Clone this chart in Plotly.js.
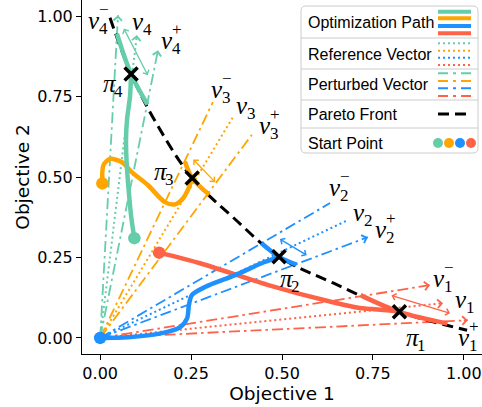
<!DOCTYPE html>
<html><head><meta charset="utf-8">
<script src="https://cdn.plot.ly/plotly-3.0.1.min.js"></script>
<style>html,body{margin:0;padding:0;background:#fff}#chart{width:482px;height:407px}</style>
</head><body><div id="chart"></div>
<script>
// ---- data (index order: 1 red, 2 blue, 3 orange, 4 green) ----
const names = ['1','2','3','4'];
const colors = ['#FF6347','#1E90FF','#FFA500','#66CDAA'];

const front_x = [0.027, 0.085, 0.158, 0.253, 0.365, 0.492, 0.642, 0.823, 1.009];
const front_y = [0.995, 0.82, 0.66, 0.497, 0.375, 0.252, 0.17, 0.081, 0.024];

const pi_x = [0.823, 0.492, 0.253, 0.085];
const pi_y = [0.081, 0.252, 0.497, 0.82];

const start_x = [0.162, 0.0, 0.006, 0.094];
const start_y = [0.265, 0.0, 0.48, 0.31];

const ref_x = [0.943, 0.681, 0.365, 0.101];
const ref_y = [0.108, 0.366, 0.686, 0.941];
const minus_x = [0.907, 0.632, 0.31, 0.049];
const minus_y = [0.164, 0.419, 0.733, 1.003];
const plus_x = [1.011, 0.736, 0.417, 0.159];
const plus_y = [0.055, 0.313, 0.631, 0.894];

const path1_x = [0.162, 0.275, 0.46, 0.64, 0.714, 0.789, 0.823];
const path1_y = [0.265, 0.232, 0.165, 0.111, 0.093, 0.086, 0.081];
const path2_x = [0.0, 0.076, 0.17, 0.219, 0.239, 0.244, 0.252, 0.288, 0.371, 0.45, 0.492];
const path2_y = [0.0, 0.002, 0.015, 0.033, 0.061, 0.102, 0.133, 0.158, 0.195, 0.235, 0.252];
const path3_x = [0.006, 0.009, 0.027, 0.06, 0.087, 0.131, 0.178, 0.206, 0.228, 0.245, 0.253];
const path3_y = [0.48, 0.537, 0.556, 0.546, 0.515, 0.475, 0.422, 0.415, 0.434, 0.47, 0.497];
const path4_x = [0.094, 0.086, 0.079, 0.073, 0.071, 0.074, 0.082, 0.085];
const path4_y = [0.31, 0.37, 0.45, 0.54, 0.614, 0.68, 0.75, 0.82];

const seg1_x = [0.716, 0.823, 0.955];  const seg1_y = [0.133, 0.081, 0.045];
const seg2_x = [0.443, 0.492, 0.54];   const seg2_y = [0.295, 0.252, 0.228];
const seg3_x = [0.233, 0.253, 0.3];    const seg3_y = [0.548, 0.497, 0.445];
const seg4_x = [0.046, 0.085, 0.13];   const seg4_y = [0.945, 0.82, 0.725];

const span_x0 = [0.797, 0.49, 0.252, 0.063];
const span_y0 = [0.133, 0.31, 0.559, 0.966];
const span_x1 = [0.962, 0.568, 0.316, 0.131];
const span_y1 = [0.077, 0.257, 0.484, 0.816];

// label anchors (left edge of glyph, vertical centre)
const lblMinus_x = [0.91, 0.625, 0.298, -0.038];
const lblMinus_y = [0.186, 0.466, 0.773, 0.985];
const lblRef_x = [0.969, 0.69, 0.369, 0.083];
const lblRef_y = [0.12, 0.39, 0.721, 0.984];
const lblPlus_x = [0.978, 0.751, 0.43, 0.162];
const lblPlus_y = [0.0, 0.336, 0.659, 0.923];
const lblPi_x = [0.835, 0.488, 0.143, 0.002];
const lblPi_y = [0.0, 0.185, 0.516, 0.792];

const legendLabels = ['Optimization Path','Reference Vector','Perturbed Vector','Pareto Front','Start Point'];

// ---- traces ----
const paths_x = [path1_x, path2_x, path3_x, path4_x];
const paths_y = [path1_y, path2_y, path3_y, path4_y];
const segs_x = [seg1_x, seg2_x, seg3_x, seg4_x];
const segs_y = [seg1_y, seg2_y, seg3_y, seg4_y];
const DASHDOT = '11px,4px,2.5px,4px';
const DOT = '2px,3px';
const traces = [];
for (let i = 0; i < 4; i++) {
  traces.push({x:[0, minus_x[i]], y:[0, minus_y[i]], mode:'lines', line:{color:colors[i], width:1.8, dash:DASHDOT}, hoverinfo:'skip'});
  traces.push({x:[0, ref_x[i]], y:[0, ref_y[i]], mode:'lines', line:{color:colors[i], width:2, dash:DOT}, hoverinfo:'skip'});
  traces.push({x:[0, plus_x[i]], y:[0, plus_y[i]], mode:'lines', line:{color:colors[i], width:1.8, dash:DASHDOT}, hoverinfo:'skip'});
}
traces.push({x:front_x, y:front_y, mode:'lines', line:{color:'black', width:3, dash:'11px,6px', shape:'spline', smoothing:1}, hoverinfo:'skip'});
for (let i = 0; i < 4; i++) {
  traces.push({x:segs_x[i], y:segs_y[i], mode:'lines', line:{color:colors[i], width:4.5, shape:'spline'}, hoverinfo:'skip'});
  traces.push({x:paths_x[i], y:paths_y[i], mode:'lines', line:{color:colors[i], width:4.5, shape:'spline', smoothing:0.8}, hoverinfo:'skip'});
}
traces.push({x:start_x, y:start_y, mode:'markers', marker:{color:colors, size:12.5, line:{width:0}}, hoverinfo:'skip'});
traces.push({x:pi_x, y:pi_y, mode:'markers', marker:{symbol:'x-thin', size:13, line:{width:3.5, color:'black'}, color:'black'}, hoverinfo:'skip'});

// ---- annotations ----
const ann = [];
function rayArrow(tx, ty, c) {
  ann.push({x:tx, y:ty, ax:tx*0.985, ay:ty*0.985, xref:'x', yref:'y', axref:'x', ayref:'y', text:'', showarrow:true,
    arrowhead:4, arrowsize:1.1, arrowwidth:1.5, arrowcolor:c});
}
const MATH = {family:'Liberation Serif', size:25, color:'black'};
const SMALL = {family:'Liberation Serif', size:17, color:'black'};
function label(x, y, main, sub, sup) {
  ann.push({x:x, y:y, xref:'x', yref:'y', text:main, showarrow:false, xanchor:'left', yanchor:'middle', font:MATH});
  ann.push({x:x, y:y, xref:'x', yref:'y', text:sub, showarrow:false, xanchor:'left', yanchor:'middle', font:SMALL, xshift:11, yshift:-8});
  if (sup) ann.push({x:x, y:y, xref:'x', yref:'y', text:sup, showarrow:false, xanchor:'left', yanchor:'middle', font:SMALL, xshift:11, yshift:11});
}
for (let i = 0; i < 4; i++) {
  rayArrow(minus_x[i], minus_y[i], colors[i]);
  rayArrow(ref_x[i], ref_y[i], colors[i]);
  rayArrow(plus_x[i], plus_y[i], colors[i]);
  ann.push({x:span_x1[i], y:span_y1[i], ax:span_x0[i], ay:span_y0[i], xref:'x', yref:'y', axref:'x', ayref:'y', text:'', showarrow:true,
    arrowhead:4, startarrowhead:4, arrowside:'end+start', arrowsize:1.0, startarrowsize:1.0, arrowwidth:1.3, arrowcolor:colors[i]});
  label(lblMinus_x[i], lblMinus_y[i], '<i>v</i>', names[i], '\u2212');
  label(lblRef_x[i], lblRef_y[i], '<i>v</i>', names[i], null);
  label(lblPlus_x[i], lblPlus_y[i], '<i>v</i>', names[i], '+');
  label(lblPi_x[i], lblPi_y[i], '<i>\u03c0</i>', names[i], null);
}

// ---- legend (drawn in paper coordinates) ----
const PL = 82, PW = 400, PH = 354;
const X = px => (px - PL) / PW, Y = py => 1 - py / PH;
const shapes = [];
(function(){
  const x0 = 301, x1 = 478, y0 = 6, y1 = 153, r = 5;
  const p = `M${X(x0+r)},${Y(y0)} L${X(x1-r)},${Y(y0)} Q${X(x1)},${Y(y0)} ${X(x1)},${Y(y0+r)} L${X(x1)},${Y(y1-r)} Q${X(x1)},${Y(y1)} ${X(x1-r)},${Y(y1)} L${X(x0+r)},${Y(y1)} Q${X(x0)},${Y(y1)} ${X(x0)},${Y(y1-r)} L${X(x0)},${Y(y0+r)} Q${X(x0)},${Y(y0)} ${X(x0+r)},${Y(y0)} Z`;
  shapes.push({type:'path', xref:'paper', yref:'paper', path:p, fillcolor:'rgba(255,255,255,0.85)', line:{color:'#cccccc', width:1}, layer:'above'});
  [38, 69, 100, 128].forEach(yy => shapes.push({type:'line', xref:'paper', yref:'paper', x0:X(x0), x1:X(x1), y0:Y(yy), y1:Y(yy), line:{color:'#cccccc', width:1}, layer:'above'}));
  const order = [3, 2, 1, 0]; // green, orange, blue, red
  const sx0 = 438, sx1 = 471;
  const rows = [[11.7, 18.3, 26, 33.3], [43.3, 50.7, 57.7, 65], [73.3, 81, 88.3, 96]];
  const styles = [{width:4, dash:'solid'}, {width:2, dash:DOT}, {width:2, dash:'10px,5px,3px,5px'}];
  rows.forEach((ys, r2) => ys.forEach((yy, k) => shapes.push({type:'line', xref:'paper', yref:'paper', x0:X(sx0), x1:X(sx1), y0:Y(yy), y1:Y(yy),
    line:{color:colors[order[k]], width:styles[r2].width, dash:styles[r2].dash}, layer:'above'})));
  shapes.push({type:'line', xref:'paper', yref:'paper', x0:X(sx0), x1:X(sx1), y0:Y(114), y1:Y(114), line:{color:'black', width:3, dash:'11px,6px'}, layer:'above'});
  [438, 449, 460, 471].forEach((cx, k) => shapes.push({type:'circle', xref:'paper', yref:'paper', x0:X(cx-5), x1:X(cx+5), y0:Y(143+5), y1:Y(143-5),
    fillcolor:colors[order[k]], line:{width:0}, layer:'above'}));
  const ty = [22.5, 55, 85, 115, 143];
  legendLabels.forEach((t, k) => ann.push({xref:'paper', yref:'paper', x:X(306), y:Y(ty[k]), text:t, showarrow:false, xanchor:'left', yanchor:'middle',
    font:{family:'Liberation Sans', size:16, color:'black'}}));
})();

const AX = {showgrid:false, zeroline:false, showline:true, mirror:true, linecolor:'black', linewidth:1,
  ticks:'outside', ticklen:5, tickwidth:1, tickcolor:'black', tickvals:[0, 0.25, 0.5, 0.75, 1], ticktext:['0.00','0.25','0.50','0.75','1.00'],
  tickfont:{family:'DejaVu Sans', size:16, color:'black'}, automargin:false};
const layout = {
  width:482, height:407, margin:{l:PL, r:0, t:0, b:53}, paper_bgcolor:'white', plot_bgcolor:'white', showlegend:false,
  xaxis:Object.assign({}, AX, {range:[-0.05, 1.05], title:{text:'Objective 1', font:{family:'DejaVu Sans', size:18.5, color:'black'}, standoff:0}}),
  yaxis:Object.assign({}, AX, {range:[-0.05, 1.05], title:{text:'Objective 2', font:{family:'DejaVu Sans', size:18.5, color:'black'}, standoff:2}}),
  annotations:ann, shapes:shapes
};
Plotly.newPlot('chart', traces, layout, {staticPlot:true, displayModeBar:false});
</script></body></html>
